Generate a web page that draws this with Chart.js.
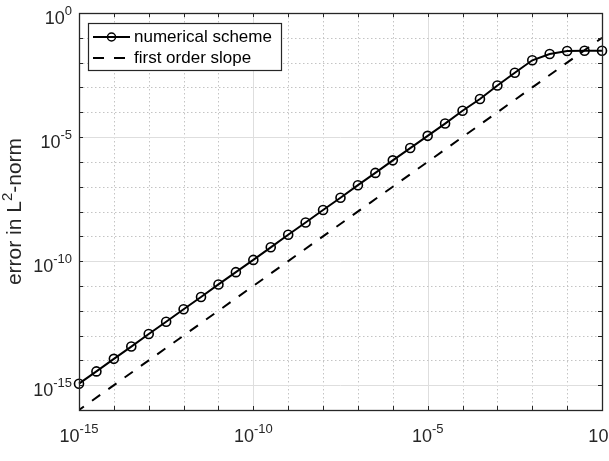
<!DOCTYPE html>
<html><head><meta charset="utf-8">
<script src="https://cdn.jsdelivr.net/npm/chart.js@4"></script>
<style>html,body{margin:0;padding:0;background:#fff;overflow:hidden}</style>
</head><body>
<canvas id="c" width="609" height="461"></canvas>
<script>
// ---- data ----
const stepSizes = [1e-15, 3.16e-15, 1e-14, 3.16e-14, 1e-13, 3.16e-13, 1e-12, 3.16e-12, 1e-11, 3.16e-11,
  1e-10, 3.16e-10, 1e-9, 3.16e-9, 1e-8, 3.16e-8, 1e-7, 3.16e-7, 1e-6, 3.16e-6,
  1e-5, 3.16e-5, 1e-4, 3.16e-4, 1e-3, 3.16e-3, 1e-2, 3.16e-2, 1e-1, 3.16e-1, 1];
const errorValues = [1.15e-15, 3.6e-15, 1.15e-14, 3.6e-14, 1.15e-13, 3.6e-13, 1.15e-12, 3.6e-12, 1.15e-11, 3.6e-11,
  1.12e-10, 3.6e-10, 1.15e-9, 3.6e-9, 1.15e-8, 3.6e-8, 1.15e-7, 3.6e-7, 1.15e-6, 3.6e-6,
  1.12e-5, 3.5e-5, 1.15e-4, 3.4e-4, 1.2e-3, 3.9e-3, 1.24e-2, 2.22e-2, 2.94e-2, 3.0e-2, 3.0e-2];
const slopeX = [1e-15, 1];
const slopeY = [1e-16, 1e-1];
const seriesLabels = ['numerical scheme', 'first order slope'];
const xRange = [1e-15, 1];
const yRange = [1e-16, 1];
const xLabelExponents = ['-15', '-10', '-5', '0'];
const yLabelExponents = ['-15', '-10', '-5', '0'];
const yTitleParts = ['error in L', '2', '-norm'];

const AX = '#262626';
const FONT = '"Liberation Sans", Arial, Helvetica, sans-serif';

function decadeTicks(lo, hi) {
  const out = [];
  for (let e = Math.round(Math.log10(lo)); e <= Math.round(Math.log10(hi)); e++) out.push({ value: Math.pow(10, e) });
  return out;
}

function drawPow(ctx, base, exp, x, y, align, bs, es, rise) {
  ctx.font = bs + 'px ' + FONT;
  const wb = ctx.measureText(base).width;
  ctx.font = es + 'px ' + FONT;
  const we = ctx.measureText(exp).width;
  const total = wb + we;
  let sx = align === 'center' ? x - total / 2 : x - total;
  ctx.textAlign = 'left';
  ctx.textBaseline = 'alphabetic';
  ctx.font = bs + 'px ' + FONT;
  ctx.fillText(base, sx, y);
  ctx.font = es + 'px ' + FONT;
  ctx.fillText(exp, sx + wb, y - rise);
}

const matlabAxes = {
  id: 'matlabAxes',
  beforeDatasetsDraw(chart) {
    const { ctx, chartArea: a, scales: { x, y } } = chart;
    ctx.save();
    ctx.lineWidth = 1;
    x.ticks.forEach(t => {
      const px = Math.round(x.getPixelForValue(t.value)) + 0.5;
      if (px <= a.left + 1 || px >= a.right - 1) return;
      const e = Math.round(Math.log10(t.value));
      if (e % 5 === 0) { ctx.setLineDash([]); ctx.strokeStyle = '#dedede'; }
      else { ctx.setLineDash([1.5, 2.5]); ctx.strokeStyle = '#c4c4c4'; }
      ctx.beginPath(); ctx.moveTo(px, a.top); ctx.lineTo(px, a.bottom); ctx.stroke();
    });
    y.ticks.forEach(t => {
      const py = Math.round(y.getPixelForValue(t.value)) + 0.5;
      if (py <= a.top + 1 || py >= a.bottom - 1) return;
      const e = Math.round(Math.log10(t.value));
      if (e % 5 === 0) { ctx.setLineDash([]); ctx.strokeStyle = '#dedede'; }
      else { ctx.setLineDash([1.5, 2.5]); ctx.strokeStyle = '#c4c4c4'; }
      ctx.beginPath(); ctx.moveTo(a.left, py); ctx.lineTo(a.right, py); ctx.stroke();
    });
    ctx.restore();
  },
  afterDatasetsDraw(chart) {
    const { ctx, chartArea: a, scales: { x, y } } = chart;
    ctx.save();
    // ticks (inward, all four sides)
    ctx.strokeStyle = AX; ctx.lineWidth = 1; ctx.setLineDash([]);
    const TL = 4;
    x.ticks.forEach(t => {
      const px = Math.round(x.getPixelForValue(t.value)) + 0.5;
      ctx.beginPath();
      ctx.moveTo(px, a.bottom); ctx.lineTo(px, a.bottom - TL);
      ctx.moveTo(px, a.top); ctx.lineTo(px, a.top + TL);
      ctx.stroke();
    });
    y.ticks.forEach(t => {
      const py = Math.round(y.getPixelForValue(t.value)) + 0.5;
      ctx.beginPath();
      ctx.moveTo(a.left, py); ctx.lineTo(a.left + TL, py);
      ctx.moveTo(a.right, py); ctx.lineTo(a.right - TL, py);
      ctx.stroke();
    });
    // box
    ctx.lineWidth = 1.3;
    ctx.strokeRect(Math.round(a.left) + 0.5, Math.round(a.top) + 0.5, Math.round(a.right - a.left), Math.round(a.bottom - a.top));
    // tick labels
    ctx.fillStyle = AX;
    xLabelExponents.forEach(ex => {
      const px = x.getPixelForValue(Math.pow(10, Number(ex)));
      drawPow(ctx, '10', ex, px, a.bottom + 32, 'center', 18, 13, 9);
    });
    yLabelExponents.forEach(ex => {
      const py = y.getPixelForValue(Math.pow(10, Number(ex)));
      drawPow(ctx, '10', ex, a.left - 7, py + 11, 'right', 18, 13, 9.5);
    });
    // y title
    ctx.save();
    const cy = (a.top + a.bottom) / 2;
    ctx.translate(21, cy);
    ctx.rotate(-Math.PI / 2);
    const f1 = 21, f2 = 15;
    ctx.font = f1 + 'px ' + FONT;
    const w1 = ctx.measureText(yTitleParts[0]).width;
    const w3 = ctx.measureText(yTitleParts[2]).width;
    ctx.font = f2 + 'px ' + FONT;
    const w2 = ctx.measureText(yTitleParts[1]).width;
    let sx = -(w1 + w2 + w3) / 2;
    ctx.textAlign = 'left'; ctx.textBaseline = 'alphabetic';
    ctx.font = f1 + 'px ' + FONT; ctx.fillText(yTitleParts[0], sx, 0);
    ctx.font = f2 + 'px ' + FONT; ctx.fillText(yTitleParts[1], sx + w1, -9.5);
    ctx.font = f1 + 'px ' + FONT; ctx.fillText(yTitleParts[2], sx + w1 + w2, 0);
    ctx.restore();
    // legend
    const lx = 88.5, ly = 23.5, lw = 193, lh = 47;
    ctx.fillStyle = '#ffffff';
    ctx.fillRect(lx, ly, lw, lh);
    ctx.strokeStyle = AX; ctx.lineWidth = 1.2;
    ctx.strokeRect(lx, ly, lw, lh);
    const r1 = 37, r2 = 58;
    ctx.strokeStyle = '#000'; ctx.lineWidth = 2;
    ctx.beginPath(); ctx.moveTo(93, r1); ctx.lineTo(130, r1); ctx.stroke();
    ctx.lineWidth = 1.5;
    ctx.beginPath(); ctx.arc(111.5, r1, 4, 0, Math.PI * 2); ctx.stroke();
    ctx.lineWidth = 2; ctx.setLineDash([11, 10]);
    ctx.beginPath(); ctx.moveTo(93, r2); ctx.lineTo(130, r2); ctx.stroke();
    ctx.setLineDash([]);
    ctx.fillStyle = '#000';
    ctx.font = '17px ' + FONT; ctx.textAlign = 'left'; ctx.textBaseline = 'middle';
    ctx.fillText(seriesLabels[0], 134, r1);
    ctx.fillText(seriesLabels[1], 134, r2);
    ctx.restore();
  }
};

new Chart(document.getElementById('c'), {
  type: 'scatter',
  data: {
    datasets: [
      {
        label: seriesLabels[0],
        data: stepSizes.map((h, i) => ({ x: h, y: errorValues[i] })),
        showLine: true,
        borderColor: '#000',
        borderWidth: 2,
        pointRadius: 4.5,
        pointBorderWidth: 1.6,
        pointBorderColor: '#000',
        pointBackgroundColor: 'rgba(0,0,0,0)',
        clip: false
      },
      {
        label: seriesLabels[1],
        data: slopeX.map((h, i) => ({ x: h, y: slopeY[i] })),
        showLine: true,
        borderColor: '#000',
        borderWidth: 2,
        borderDash: [10, 10],
        borderDashOffset: 4,
        pointRadius: 0
      }
    ]
  },
  options: {
    responsive: false,
    animation: false,
    devicePixelRatio: 1,
    layout: { padding: { top: 13, right: 7, left: 0, bottom: 0 } },
    plugins: { legend: { display: false }, tooltip: { enabled: false } },
    scales: {
      x: {
        type: 'logarithmic', min: xRange[0], max: xRange[1],
        ticks: { display: false }, grid: { display: false }, border: { display: false },
        afterBuildTicks: s => { s.ticks = decadeTicks(xRange[0], xRange[1]); },
        afterFit: s => { s.height = 51; }
      },
      y: {
        type: 'logarithmic', min: yRange[0], max: yRange[1],
        ticks: { display: false }, grid: { display: false }, border: { display: false },
        afterBuildTicks: s => { s.ticks = decadeTicks(yRange[0], yRange[1]); },
        afterFit: s => { s.width = 79; }
      }
    }
  },
  plugins: [matlabAxes]
});
</script>
</body></html>
